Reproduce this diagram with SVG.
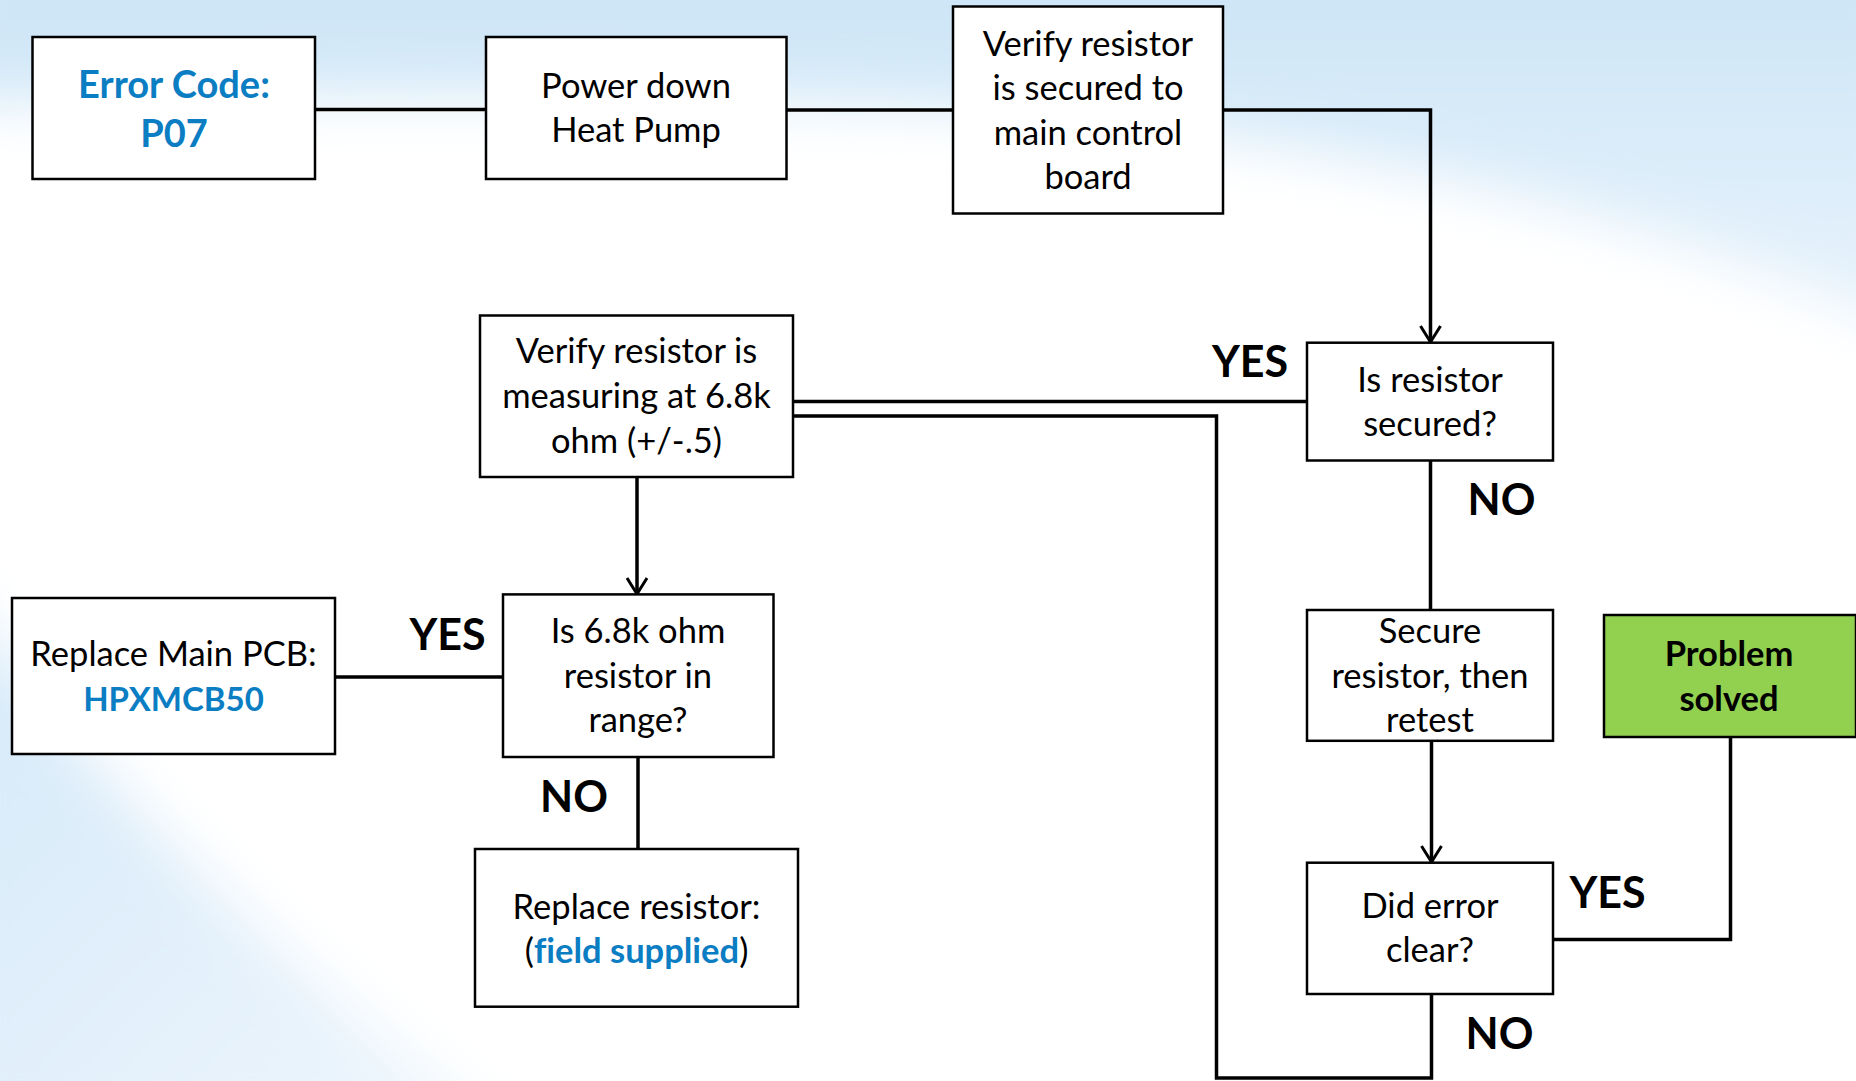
<svg xmlns="http://www.w3.org/2000/svg" width="1856" height="1081" viewBox="0 0 1856 1081">
<defs>
<style>
.box{fill:#ffffff;stroke:#000;stroke-width:2.5}
.green{fill:#92D050;stroke:#000;stroke-width:2.5}
.t{font-family:Lato,"Open Sans",sans-serif;font-size:34.5px;fill:#000;text-anchor:middle;font-variant-ligatures:none}
.b{font-weight:bold}
.blue{fill:#0A7DC3}
.lbl{font-family:Lato,"Open Sans",sans-serif;font-size:43px;font-weight:bold;fill:#000;text-anchor:middle}
.c{fill:none;stroke:#000;stroke-width:3.5}
</style>
<marker id="arr" viewBox="0 0 20 24" refX="18" refY="12" markerWidth="20" markerHeight="24" markerUnits="userSpaceOnUse" orient="auto">
<path d="M2,2 L18,12 L2,22" fill="none" stroke="#000" stroke-width="3"/>
</marker>
<linearGradient id="gTop" x1="0" y1="0" x2="0" y2="1">
<stop offset="0" stop-color="#c9e3f6"/>
<stop offset="1" stop-color="#eaf4fc"/>
</linearGradient>
<linearGradient id="gBL" x1="0" y1="0" x2="1" y2="1">
<stop offset="0" stop-color="#d3e8f8"/>
<stop offset="1" stop-color="#f0f7fd"/>
</linearGradient>
<filter id="blur" x="-20%" y="-20%" width="140%" height="140%"><feGaussianBlur stdDeviation="28"/></filter>
</defs>
<g id="background">
<rect width="1856" height="1081" fill="#ffffff"/>
<path d="M-60,-60 H1920 V340 C1700,230 1350,130 900,105 C550,90 250,95 -60,105 Z" fill="url(#gTop)" filter="url(#blur)"/>
<path d="M-60,580 C60,720 220,930 520,1140 H-60 Z" fill="url(#gBL)" filter="url(#blur)"/>
</g>
<g id="connectors">
<line class="c" x1="315" y1="109.5" x2="486" y2="109.5"/>
<line class="c" x1="786.5" y1="110" x2="953" y2="110"/>
<polyline class="c" points="1223,110 1430.5,110 1430.5,342" marker-end="url(#arr)"/>
<line class="c" x1="793" y1="401.6" x2="1307" y2="401.6"/>
<polyline class="c" points="1431.5,994 1431.5,1078 1216.5,1078 1216.5,416 793,416"/>
<line class="c" x1="1430.5" y1="460.5" x2="1430.5" y2="610"/>
<line class="c" x1="1431.5" y1="741" x2="1431.5" y2="862" marker-end="url(#arr)"/>
<polyline class="c" points="1553,939.5 1730.5,939.5 1730.5,737"/>
<line class="c" x1="637" y1="477" x2="637" y2="594" marker-end="url(#arr)"/>
<line class="c" x1="503" y1="677" x2="335" y2="677"/>
<line class="c" x1="638" y1="757" x2="638" y2="849"/>
</g>
<g id="labels">
<text class="lbl" x="1250" y="377">YES</text>
<text class="lbl" x="1501.5" y="515">NO</text>
<text class="lbl" x="447.5" y="650">YES</text>
<text class="lbl" x="574" y="812">NO</text>
<text class="lbl" x="1607.5" y="907.5">YES</text>
<text class="lbl" x="1499.5" y="1049">NO</text>
</g>
<g id="node-error">
<rect class="box" x="32.5" y="37" width="282.5" height="142"/>
<text class="t b blue" style="font-size:38px" x="174" y="97.5">Error Code:</text>
<text class="t b blue" style="font-size:38px" x="174" y="147">P07</text>
</g>
<g id="node-power">
<rect class="box" x="486" y="37" width="300.5" height="142"/>
<text class="t" x="636" y="98">Power down</text>
<text class="t" x="636" y="142">Heat Pump</text>
</g>
<g id="node-verify-secured">
<rect class="box" x="953" y="6.5" width="270" height="207"/>
<text class="t" x="1088" y="56">Verify resistor</text>
<text class="t" x="1088" y="100">is secured to</text>
<text class="t" x="1088" y="144.5">main control</text>
<text class="t" x="1088" y="188.5">board</text>
</g>
<g id="node-is-secured">
<rect class="box" x="1307" y="342.7" width="246" height="117.8"/>
<text class="t" x="1430" y="391.5">Is resistor</text>
<text class="t" x="1430" y="435.5">secured?</text>
</g>
<g id="node-verify-measure">
<rect class="box" x="480" y="315.5" width="313" height="161.5"/>
<text class="t" x="636.5" y="363">Verify resistor is</text>
<text class="t" x="636.5" y="408">measuring at 6.8k</text>
<text class="t" x="636.5" y="453">ohm (+/-.5)</text>
</g>
<g id="node-replace-pcb">
<rect class="box" x="12" y="598" width="323" height="156"/>
<text class="t" x="173.5" y="665.5">Replace Main PCB:</text>
<text class="t b blue" style="font-size:33px" x="173.5" y="710.5">HPXMCB50</text>
</g>
<g id="node-in-range">
<rect class="box" x="503" y="594.4" width="270.5" height="162.6"/>
<text class="t" x="638" y="643">Is 6.8k ohm</text>
<text class="t" x="638" y="687.5">resistor in</text>
<text class="t" x="638" y="731.5">range?</text>
</g>
<g id="node-replace-resistor">
<rect class="box" x="475" y="849" width="323" height="157.7"/>
<text class="t" x="636.5" y="919">Replace resistor:</text>
<text class="t" x="636.5" y="963">(<tspan class="b blue">field supplied</tspan>)</text>
</g>
<g id="node-secure">
<rect class="box" x="1307" y="610" width="246" height="130.8"/>
<text class="t" x="1430" y="643">Secure</text>
<text class="t" x="1430" y="687.5">resistor, then</text>
<text class="t" x="1430" y="731.5">retest</text>
</g>
<g id="node-solved">
<rect class="green" x="1604" y="615" width="252" height="122"/>
<text class="t b" x="1729" y="665.5">Problem</text>
<text class="t b" x="1729" y="710.5">solved</text>
</g>
<g id="node-did-error">
<rect class="box" x="1307" y="862.7" width="246" height="131.3"/>
<text class="t" x="1430" y="918">Did error</text>
<text class="t" x="1430" y="962">clear?</text>
</g>
</svg>
